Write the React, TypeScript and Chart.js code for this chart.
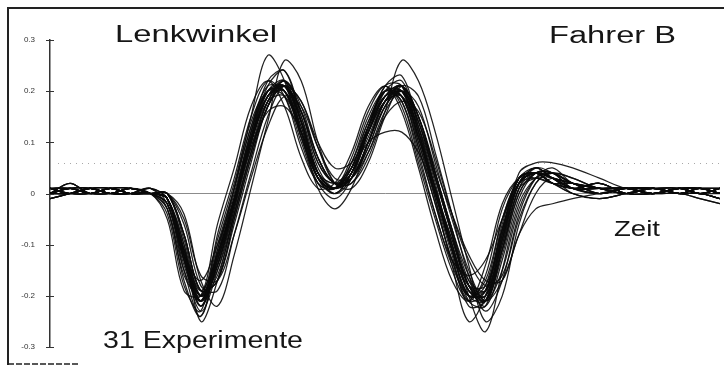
import React, { useEffect, useRef } from "react";
import { Chart, registerables } from "chart.js";

Chart.register(...registerables);

// Time grid (0..100, arbitrary time units)
const TIME = [0, 3, 6, 9, 12, 15, 17.5, 20, 22.5, 25, 27.5, 30, 32.5, 35, 37.5, 40, 42.5, 45, 47.5, 50, 52.5, 55, 57.5, 60, 62.5, 65, 67.5, 70, 72.5, 75, 78, 82, 86, 90, 94, 97, 100];

// Steering angle values, in hundredths (0.01 rad)
const UNIT = 0.01;
const E01 = [0,1,0,1,0,0, -1,-12,-21,-13,-2,10,19,21,14,4,1,4,12,19,20,12,1,-10,-19,-20,-9,2,4,3, 2,1,0,1,0,1,0];
const E02 = [1,0,1,0,1,0, -4,-18,-23,-8,3,15,22,19,9,2,1,7,16,21,17,6,-5,-15,-21,-16,-3,3,4,2, 1,1,1,0,1,0,1];
const E03 = [0,0,1,1,0,0, 0,-6,-18,-19,-8,4,15,21,18,9,2,2,8,16,20,17,6,-5,-15,-21,-15,-3,3,4, 2,0,1,1,0,0,-1];
const E04 = [1,1,0,0,1,0, -1,-13,-23,-15,-3,11,21,24,15,4,0,3,12,20,22,13,2,-11,-21,-22,-10,2,5,3, 1,2,0,0,1,1,0];
const E05 = [0,1,1,0,0,1, -3,-16,-20,-9,2,14,20,19,10,2,1,6,15,20,18,7,-4,-14,-20,-17,-5,3,4,2, 1,0,1,1,1,0,1];
const E06 = [-1,0,1,0,0,0, 0,-5,-16,-17,-8,3,13,19,17,9,3,3,8,15,18,16,7,-4,-13,-18,-16,-5,2,4, 2,1,1,0,1,1,1];
const E07 = [1,0,0,1,1,0, -2,-15,-24,-12,1,15,27,22,11,2,-1,3,13,21,21,10,-1,-12,-22,-21,-8,3,4,2, 0,-1,0,1,0,0,-1];
const E08 = [0,2,0,1,0,0, 0,-4,-17,-22,-12,1,14,26,22,10,2,1,6,15,21,19,8,-4,-16,-23,-17,-4,3,5, 2,1,0,1,0,1,0];
const E09 = [1,0,1,0,1,0, -1,-10,-20,-15,-4,8,18,22,16,6,2,2,7,16,26,22,12,-1,-14,-25,-20,-6,2,4, 3,1,1,0,0,-1,-2];
const E10 = [0,1,0,1,0,0, -2,-13,-20,-12,-1,11,19,20,13,4,2,5,10,12,12,8,0,-9,-17,-19,-10,1,3,3, 1,1,1,0,1,0,1];
const E11 = [1,1,0,0,1,0, -1,-12,-22,-14,-2,10,20,22,12,1,-3,1,10,18,20,12,1,-10,-19,-21,-9,2,4,3, 1,2,0,0,1,1,0];
const E12 = [0,0,1,1,0,0, 0,-8,-19,-17,-5,7,17,21,18,10,5,6,12,18,19,13,3,-8,-18,-20,-11,0,4,4, 1,0,1,1,1,0,1];
const E13 = [0,1,1,0,0,1, -1,-10,-25,-17,-4,8,18,22,16,6,2,3,10,18,21,15,4,-7,-18,-21,-11,1,4,4, 2,0,1,1,0,0,-1];
const E14 = [1,0,0,1,1,0, -2,-12,-17,-10,-1,10,18,19,12,3,1,5,13,19,19,10,0,-11,-18,-18,-7,3,4,2, 2,1,1,0,1,1,1];
const E15 = [-1,0,1,0,0,0, -5,-19,-20,-6,5,17,22,17,7,1,2,8,17,21,16,5,-7,-17,-21,-14,-2,3,3,2, 2,1,0,1,0,1,0];
const E16 = [0,2,0,1,0,0, -1,-11,-21,-14,-2,10,19,21,14,4,1,4,12,19,21,12,-1,-14,-25,-20,-7,2,4,3, 1,1,1,0,1,0,1];
const E17 = [0,1,0,1,0,0, -1,-13,-22,-12,-1,12,20,20,12,3,1,5,13,19,19,11,0,-11,-20,-19,-7,3,4,3, 0,-1,0,1,0,0,-1];
const E18 = [1,0,1,0,1,0, 0,-8,-19,-17,-6,6,17,21,16,7,2,3,9,17,20,15,5,-4,-12,-17,-17,-8,-3,-2, -1,0,1,0,1,0,0];
const E19 = [0,0,1,1,0,0, -1,-12,-21,-13,-2,10,19,21,14,4,1,4,11,18,20,14,4,-7,-16,-21,-17,-8,0,3, 1,2,0,0,1,1,0];
const E20 = [1,1,0,0,1,0, -2,-14,-21,-11,0,12,20,21,12,3,1,4,12,19,20,11,0,-10,-19,-19,-8,2,5,3, 1,0,1,1,1,0,1];
const E21 = [0,1,1,0,0,1, -1,-11,-20,-14,-3,9,18,21,15,5,1,3,10,17,20,14,3,-8,-18,-21,-11,1,5,4, 2,1,1,0,1,1,1];
const E22 = [-1,0,1,0,0,0, -1,-12,-21,-13,-2,10,19,22,14,4,1,4,12,19,21,12,1,-10,-19,-20,-8,4,6,6, 5,3,1,1,0,1,0];
const E23 = [1,0,0,1,1,0, -3,-15,-21,-10,1,13,21,20,11,3,1,6,14,20,19,9,-2,-13,-20,-18,-5,3,5,3, 2,1,0,1,0,1,0];
const E24 = [0,2,0,1,0,0, 0,-9,-20,-16,-4,8,17,21,16,7,2,3,9,17,21,15,4,-7,-17,-21,-12,0,4,4, 1,1,1,0,1,0,1];
const E25 = [0,1,0,1,0,0, -1,-12,-22,-13,-1,12,22,24,14,3,0,4,13,21,23,13,1,-11,-20,-21,-9,2,4,3, 2,0,1,1,0,0,-1];
const E26 = [1,0,1,0,1,0, -1,-11,-19,-12,-2,9,16,17,12,4,2,4,12,18,19,11,1,-9,-18,-19,-9,2,4,2, 1,2,0,0,1,1,0];
const E27 = [0,0,1,1,0,0, -3,-17,-24,-11,1,13,20,20,11,3,0,4,13,20,19,9,-2,-13,-21,-19,-6,3,4,2, 1,0,1,1,1,0,1];
const E28 = [1,1,0,0,1,0, -1,-12,-20,-12,-1,11,19,20,12,3,1,5,13,20,20,11,0,-11,-20,-19,-7,2,4,3, 2,1,1,0,1,1,1];
const E29 = [0,1,1,0,0,1, -2,-13,-21,-12,-1,11,20,21,13,3,1,5,14,20,18,8,-4,-13,-16,-13,-5,2,3,2, 0,-1,0,1,0,0,-1];
const E30 = [-1,0,1,0,0,0, 0,-8,-19,-17,-5,7,17,22,17,7,2,3,10,18,21,14,3,-8,-18,-22,-13,-1,4,4, 2,1,0,1,0,1,0];
const E31 = [1,0,0,1,1,0, -1,-11,-21,-14,-2,10,19,21,14,4,1,3,10,18,21,15,4,-8,-20,-27,-15,-2,3,4, 3,1,1,0,0,-1,-2];

const EXPERIMENTS = [E01,E02,E03,E04,E05,E06,E07,E08,E09,E10,E11,E12,E13,E14,E15,E16,E17,E18,E19,E20,E21,E22,E23,E24,E25,E26,E27,E28,E29,E30,E31];

const Y_TICKS = [-0.3, -0.2, -0.1, 0, 0.1, 0.2, 0.3];
const Y_TICK_LABELS = ["-0.3", "-0.2", "-0.1", "0", "0.1", "0.2", "0.3"];

const TITLE = "Lenkwinkel";
const DRIVER = "Fahrer B";
const X_LABEL = "Zeit";
const COUNT_LABEL = "31 Experimente";

const FONT = '"Liberation Sans", Arial, Helvetica, sans-serif';

function drawStretched(ctx: CanvasRenderingContext2D, text: string, x: number, base: number, size: number, width: number) {
  ctx.save();
  ctx.font = `${size}px ${FONT}`;
  const w = ctx.measureText(text).width;
  ctx.translate(x, base);
  ctx.scale(width / w, 1);
  ctx.fillStyle = "#161616";
  ctx.textBaseline = "alphabetic";
  ctx.textAlign = "left";
  ctx.fillText(text, 0, 0);
  ctx.restore();
}

const decor = {
  id: "decor",
  beforeDraw(chart: any) {
    const ctx = chart.ctx as CanvasRenderingContext2D;
    ctx.save();
    ctx.fillStyle = "#ffffff";
    ctx.fillRect(0, 0, chart.width, chart.height);
    ctx.strokeStyle = "#222";
    ctx.lineWidth = 2;
    ctx.beginPath();
    ctx.moveTo(8, 365);
    ctx.lineTo(8, 8);
    ctx.lineTo(chart.width, 8);
    ctx.stroke();
    ctx.lineWidth = 1.5;
    ctx.setLineDash([6, 2]);
    ctx.beginPath();
    ctx.moveTo(8, 364);
    ctx.lineTo(80, 364);
    ctx.stroke();
    ctx.restore();
  },
  beforeDatasetsDraw(chart: any) {
    const ctx = chart.ctx as CanvasRenderingContext2D;
    const y = chart.scales.y;
    const area = chart.chartArea;
    ctx.save();
    ctx.strokeStyle = "#a8a8a8";
    ctx.lineWidth = 1;
    ctx.setLineDash([1, 5]);
    const yy = Math.round(y.getPixelForValue(0.06)) + 0.5;
    ctx.beginPath();
    ctx.moveTo(area.left + 8, yy);
    ctx.lineTo(area.right, yy);
    ctx.stroke();
    ctx.restore();
  },
  afterDraw(chart: any) {
    const ctx = chart.ctx as CanvasRenderingContext2D;
    const y = chart.scales.y;
    const left = chart.chartArea.left;
    ctx.save();
    ctx.strokeStyle = "#333";
    ctx.lineWidth = 1;
    Y_TICKS.forEach((v) => {
      const py = Math.round(y.getPixelForValue(v)) + 0.5;
      ctx.beginPath();
      ctx.moveTo(left - 4, py);
      ctx.lineTo(left + 4, py);
      ctx.stroke();
    });
    ctx.restore();
    drawStretched(ctx, TITLE, 115, 42, 24, 162);
    drawStretched(ctx, DRIVER, 549, 43, 23, 127);
    drawStretched(ctx, X_LABEL, 614, 236, 22, 46);
    drawStretched(ctx, COUNT_LABEL, 103, 348, 23, 200);
  },
};

export default function App() {
  const ref = useRef<HTMLCanvasElement | null>(null);

  useEffect(() => {
    if (!ref.current) return;
    const datasets = EXPERIMENTS.map((vals, k) => ({
      label: `Experiment ${k + 1}`,
      data: TIME.map((t, i) => ({ x: t, y: vals[i] * UNIT })),
      borderColor: "rgba(10,10,10,0.9)",
      borderWidth: 1.25,
      pointRadius: 0,
      tension: 0.35,
      fill: false,
    }));
    const chart = new Chart(ref.current, {
      type: "line",
      data: { datasets },
      options: {
        animation: false,
        responsive: true,
        maintainAspectRatio: false,
        layout: { padding: { left: 0, right: 4, top: 40, bottom: 20 } },
        plugins: { legend: { display: false }, tooltip: { enabled: false } },
        scales: {
          x: { type: "linear", min: 0, max: 100, display: false },
          y: {
            min: -0.3,
            max: 0.3,
            position: "left",
            border: { display: true, color: "#333", width: 1.5 },
            grid: {
              drawTicks: false,
              lineWidth: 1,
              color: (c: any) => (c.tick && c.tick.value === 0 ? "#8c8c8c" : "rgba(0,0,0,0)"),
            },
            afterBuildTicks: (s: any) => {
              s.ticks = Y_TICKS.map((v) => ({ value: v }));
            },
            afterFit: (s: any) => {
              s.width = 50;
            },
            ticks: {
              padding: 15,
              color: "#333",
              font: { size: 8, family: FONT },
              callback: (v: any) => {
                const i = Y_TICKS.findIndex((t) => Math.abs(t - Number(v)) < 1e-9);
                return i >= 0 ? Y_TICK_LABELS[i] : "";
              },
            },
          },
        },
      },
      plugins: [decor],
    });
    return () => chart.destroy();
  }, []);

  return (
    <div style={{ position: "absolute", left: 0, top: 0, width: 724, height: 367 }}>
      <canvas ref={ref} />
    </div>
  );
}
